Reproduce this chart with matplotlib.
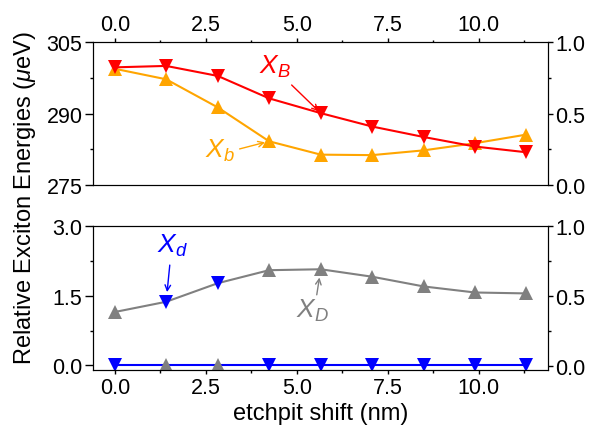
import numpy as np
import matplotlib.pyplot as plt
from matplotlib.ticker import MultipleLocator, FixedLocator

plt.rcParams['font.family'] = ['Liberation Sans', 'DejaVu Sans']
plt.rcParams['mathtext.fontset'] = 'custom'
plt.rcParams['mathtext.rm'] = 'Liberation Sans'
plt.rcParams['mathtext.it'] = 'Liberation Sans:italic'

# ---- data ----
shift = [0.0, 1.41, 2.83, 4.24, 5.66, 7.07, 8.49, 9.90, 11.31]   # nm

# top panel (µeV)
E_XB = [299.7, 300.0, 297.9, 293.2, 290.1, 287.3, 285.1, 283.1, 281.9]
E_Xb = [299.4, 297.2, 291.3, 284.2, 281.4, 281.3, 282.3, 283.8, 285.6]

# bottom panel: upper and lower branch (relative, µeV)
E_up = [1.15, 1.37, 1.77, 2.05, 2.07, 1.91, 1.70, 1.57, 1.55]
E_low = [0.0, 0.0, 0.0, 0.0, 0.0, 0.0, 0.0, 0.0, 0.0]
# character of the upper branch at each shift: 'D' (gray) or 'd' (blue)
up_char = ['D', 'd', 'd', 'D', 'D', 'D', 'D', 'D', 'D']

red, orange, blue, gray = '#ff0000', '#ffa500', '#0000ff', '#808080'
ms = 10.5
lw = 1.5
fs_tick = 15.5
fs_lab = 17

fig = plt.figure(figsize=(6.12, 4.35), dpi=100)
ax1 = fig.add_axes([0.152, 0.572, 0.743, 0.329])
ax2 = fig.add_axes([0.152, 0.147, 0.743, 0.331])

# ---- top panel ----
ax1.plot(shift, E_XB, color=red, lw=lw, marker='v', ms=ms, mew=0, zorder=3)
ax1.plot(shift, E_Xb, color=orange, lw=lw, marker='^', ms=ms, mew=0, zorder=2)
ax1.set_ylim(275, 305)
ax1.yaxis.set_major_locator(FixedLocator([275, 290, 305]))
ax1.yaxis.set_minor_locator(FixedLocator([282.5, 297.5]))
ax1.yaxis.set_major_formatter(plt.FormatStrFormatter('%d'))
ax1.tick_params(axis='x', which='both', top=True, bottom=False,
                labeltop=True, labelbottom=False)

ax1.text(4.4, 300.0, '$X_B$', color=red, fontsize=19, ha='center', va='center')
ax1.annotate('', xy=(shift[4], E_XB[4]), xytext=(4.86, 296.0),
             arrowprops=dict(arrowstyle='->', color=red, lw=1, shrinkA=0, shrinkB=2))
ax1.text(2.88, 282.5, '$X_b$', color=orange, fontsize=19, ha='center', va='center')
ax1.annotate('', xy=(shift[3], E_Xb[3]), xytext=(3.43, 282.6),
             arrowprops=dict(arrowstyle='->', color=orange, lw=1, shrinkA=0, shrinkB=3))

# ---- bottom panel ----
ax2.plot(shift, E_up, color=gray, lw=lw, zorder=2)
ax2.plot(shift, E_low, color=blue, lw=lw, zorder=2)
for x, yu, yl, c in zip(shift, E_up, E_low, up_char):
    if c == 'D':
        ax2.plot(x, yu, marker='^', color=gray, ms=ms, mew=0, zorder=3)
        ax2.plot(x, yl, marker='v', color=blue, ms=ms, mew=0, zorder=3)
    else:
        ax2.plot(x, yu, marker='v', color=blue, ms=ms, mew=0, zorder=3)
        ax2.plot(x, yl, marker='^', color=gray, ms=ms, mew=0, zorder=3)
ax2.set_ylim(-0.1, 3.0)
ax2.yaxis.set_major_locator(MultipleLocator(1.5))
ax2.yaxis.set_minor_locator(MultipleLocator(0.75))
ax2.yaxis.set_major_formatter(plt.FormatStrFormatter('%.1f'))
ax2.tick_params(axis='x', which='both', top=False, bottom=True)

ax2.text(1.58, 2.6, '$X_d$', color=blue, fontsize=19, ha='center', va='center')
ax2.annotate('', xy=(shift[1], E_up[1]), xytext=(1.51, 2.16),
             arrowprops=dict(arrowstyle='->', color=blue, lw=1, shrinkA=0, shrinkB=7))
ax2.text(5.43, 1.2, '$X_D$', color=gray, fontsize=19, ha='center', va='center')
ax2.annotate('', xy=(shift[4], E_up[4]), xytext=(5.55, 1.52),
             arrowprops=dict(arrowstyle='->', color=gray, lw=1, shrinkA=0, shrinkB=6))

for ax in (ax1, ax2):
    ax.set_xlim(-0.6, 11.9)
    ax.xaxis.set_major_locator(MultipleLocator(2.5))
    ax.xaxis.set_minor_locator(MultipleLocator(1.25))
    ax.tick_params(which='both', labelsize=fs_tick, width=1)
    ax.tick_params(axis='x', which='major', length=3.2, pad=2)
    ax.tick_params(axis='x', which='minor', length=1.8)
    ax.tick_params(axis='y', which='major', length=5.5, pad=2)
    ax.tick_params(axis='y', which='minor', length=2.2)
    lo, hi = ax.get_ylim()
    tw = ax.twinx()
    tw.set_ylim(lo / (hi - lo) if ax is ax2 else 0.0, 1.0)
    tw.yaxis.set_major_locator(MultipleLocator(0.5))
    tw.yaxis.set_minor_locator(MultipleLocator(0.25))
    tw.yaxis.set_major_formatter(plt.FormatStrFormatter('%.1f'))
    tw.tick_params(which='both', labelsize=fs_tick, width=1)
    tw.tick_params(which='major', length=3.6, pad=2)
    tw.tick_params(which='minor', length=2.2)

fig.text(0.524, 0.048, 'etchpit shift (nm)', fontsize=fs_lab, ha='center', va='center')
fig.text(0.041, 0.544, r'Relative Exciton Energies ($\mu$eV)', rotation=90,
         fontsize=fs_lab, ha='center', va='center')

fig.savefig('out.png', dpi=100)
